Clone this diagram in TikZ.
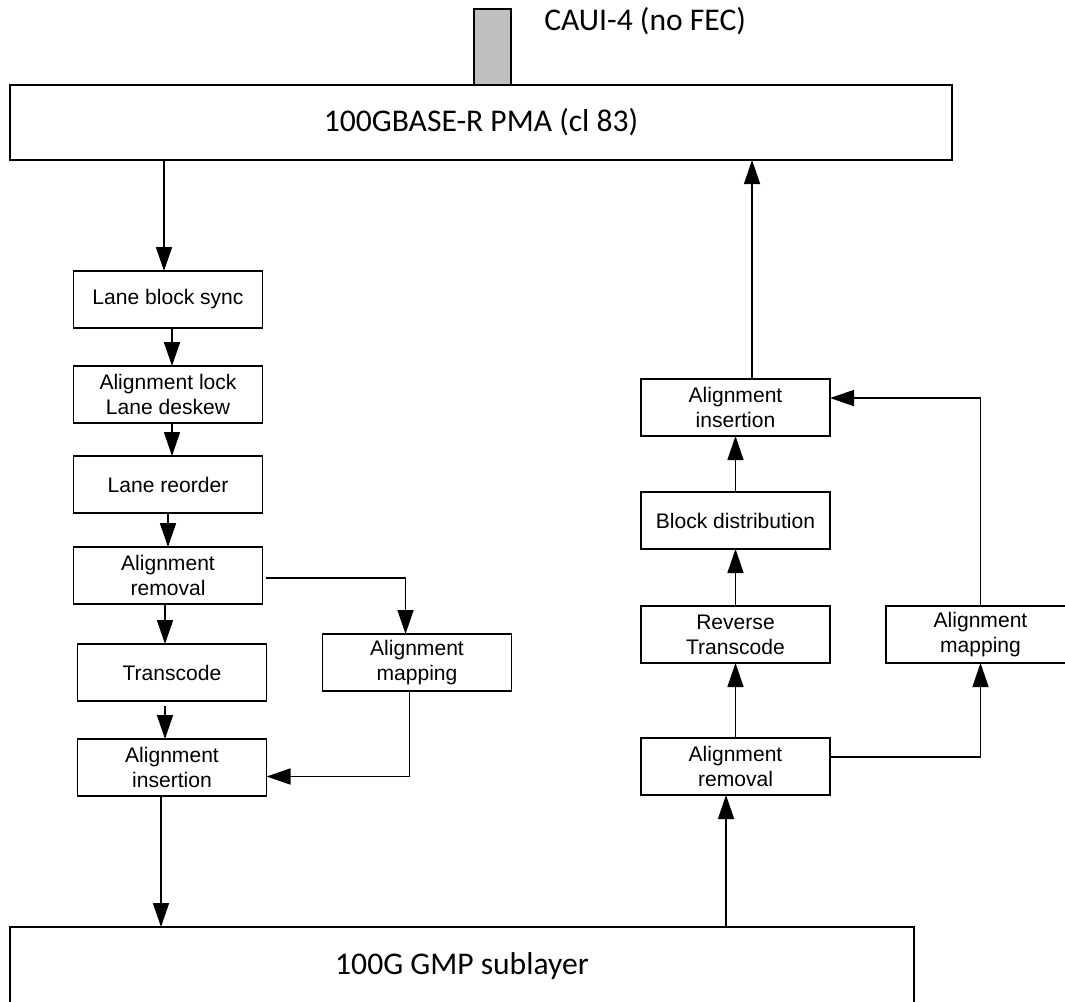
\documentclass[tikz,border=0pt]{standalone}
\usepackage{fontspec}
\setmainfont{Liberation Sans}
\newfontfamily\calfont{Carlito}
\usetikzlibrary{arrows.meta,positioning}
\tikzstyle{blk}=[rectangle,draw,line width=1.2pt,inner sep=0pt,outer sep=0pt,align=center,minimum width=141.75pt,minimum height=42.75pt,font=\fontsize{15.8pt}{18.6pt}\selectfont]
\tikzstyle{layer}=[rectangle,draw,line width=1.2pt,inner sep=0pt,outer sep=0pt,minimum height=56.25pt,font=\fontsize{23.7pt}{28pt}\selectfont\calfont]
\tikzstyle{port}=[rectangle,draw,line width=0.8pt,fill=black!25,inner sep=0pt,outer sep=0pt,minimum width=27.75pt,minimum height=57pt]
\tikzstyle{arr}=[-{Triangle[length=18pt,width=12pt]},line width=1.2pt]
\begin{document}
\begin{tikzpicture}[x=0.75pt,y=-0.75pt]
\useasboundingbox (0,0) rectangle (1065,1001);
% PMA and CAUI-4
\node (pma) [layer, minimum width=706.5pt] at (481,122.5) {100GBASE-R PMA (cl 83)};
\node (caui) [port, above=0pt of pma.north, xshift=8.6pt] {};
\node (cauilbl) [anchor=base west, inner sep=0pt, font=\fontsize{23.7pt}{28pt}\selectfont\calfont] at (544,30) {CAUI-4 (no FEC)};
% receive side
\node (lbs) [blk] at (168,299.5) {Lane block sync};
\node (alock) [blk, below=28.5pt of lbs] {Alignment lock\\Lane deskew};
\node (lro) [blk, below=24.75pt of alock] {Lane reorder};
\node (arem) [blk, below=25.5pt of lro] {Alignment\\removal};
\node (tc) [blk, below=30pt of arem, xshift=3pt] {Transcode};
\node (ains) [blk, below=28.5pt of tc] {Alignment\\insertion};
\node (amap) [blk, right=42pt of tc, yshift=7.5pt] {Alignment\\mapping};
% transmit side
\node (rins) [blk] at (735.5,407.5) {Alignment\\insertion};
\node (bdist) [blk, below=42pt of rins] {Block distribution};
\node (rtc) [blk, below=42.75pt of bdist] {Reverse\\Transcode};
\node (rrem) [blk, below=56.25pt of rtc] {Alignment\\removal};
\node (rmap) [blk, right=42pt of rtc] {Alignment\\mapping};
% GMP
\node (gmp) [layer, minimum width=678pt, minimum height=58.5pt] at (462,966) {100G GMP sublayer};
% receive connectors
\draw [arr] ([xshift=-3pt]lbs.north |- pma.south) -- ([xshift=-3pt]lbs.north);
\draw [arr] ([xshift=3pt]lbs.south) -- ([xshift=3pt]alock.north);
\draw [arr] ([xshift=3pt]alock.south) -- ([xshift=3pt]lro.north);
\draw [arr] (lro) -- (arem);
\draw [arr] ([xshift=-2.25pt]arem.south) -- ([xshift=-2.25pt]arem.south |- tc.north);
\draw [arr] ([xshift=-5.25pt,yshift=-3.75pt]tc.south) -- ([xshift=-5.25pt]ains.north);
\draw [arr] ([xshift=2.25pt,yshift=-1.9pt]arem.east) -| ([xshift=-8.6pt]amap.north);
\draw [arr] ([xshift=-5.6pt]amap.south) |- ([yshift=-6.75pt]ains.east);
\draw [arr] ([xshift=-8.25pt]ains.south) -- ([xshift=-8.25pt]ains.south |- gmp.north);
% transmit connectors
\draw [arr] ([xshift=-7.1pt]rrem.south |- gmp.north) -- ([xshift=-7.1pt]rrem.south);
\draw [arr] (rrem) -- (rtc);
\draw [arr] (rtc) -- (bdist);
\draw [arr] (bdist) -- (rins);
\draw [arr] ([yshift=7.1pt]rrem.east) -| (rmap.south);
\draw [arr] (rmap.north) |- ([yshift=7.1pt]rins.east);
\draw [arr] ([xshift=12.4pt]rins.north) -- ([xshift=12.4pt]rins.north |- pma.south);
\end{tikzpicture}
\end{document}
